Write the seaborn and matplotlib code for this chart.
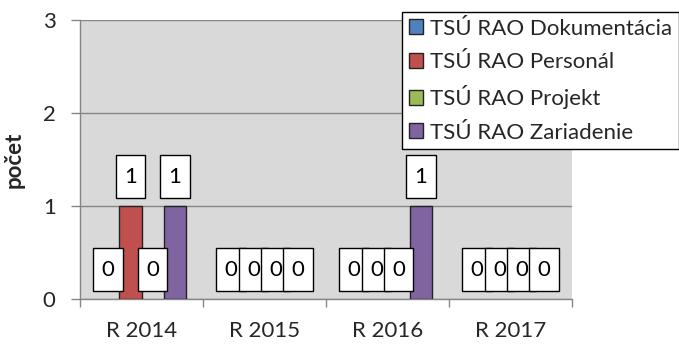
import matplotlib
matplotlib.use("Agg")
import matplotlib.pyplot as plt
from matplotlib.patches import Patch
from matplotlib.path import Path
import seaborn as sns
import pandas as pd

years = ["R 2014", "R 2015", "R 2016", "R 2017"]
series_names = ["TSÚ RAO Dokumentácia", "TSÚ RAO Personál", "TSÚ RAO Projekt", "TSÚ RAO Zariadenie"]
dokumentacia = [0, 0, 0, 0]
personal = [1, 0, 0, 0]
projekt = [0, 0, 0, 0]
zariadenie = [1, 0, 1, 0]
colors = ["#4F81BD", "#C0504D", "#9BBB59", "#8064A2"]
y_ticks = [0, 1, 2, 3]


class LabelBox:
    """Rectangular box with separate horizontal and vertical padding."""

    def __init__(self, padx=0.4, pady=0.55):
        self.padx = padx
        self.pady = pady

    def __call__(self, x0, y0, width, height, mutation_size):
        px = self.padx * mutation_size
        py = self.pady * mutation_size
        x0, y0 = x0 - px, y0 - py
        x1, y1 = x0 + width + 2 * px, y0 + height + 2 * py
        return Path._create_closed([(x0, y0), (x1, y0), (x1, y1), (x0, y1)])


rows = []
for name, vals in zip(series_names, [dokumentacia, personal, projekt, zariadenie]):
    for yr, v in zip(years, vals):
        rows.append({"rok": yr, "séria": name, "počet": v})
df = pd.DataFrame(rows)

sns.set_theme(style="white")
plt.rcParams["font.family"] = ["Lato", "DejaVu Sans"]

fig = plt.figure(figsize=(6.79, 3.45), dpi=100)
ax = fig.add_axes([80 / 679, 1 - 299 / 345, (572 - 80) / 679, (299 - 20) / 345])
ax.set_facecolor("#D9D9D9")

sns.barplot(data=df, x="rok", y="počet", hue="séria", order=years,
            hue_order=series_names, palette=colors, width=0.72, gap=0,
            edgecolor="#222222", linewidth=1.0, saturation=1, ax=ax, zorder=3)
ax.get_legend().remove()

for cont in ax.containers:
    for bar in cont:
        if bar.get_height() == 0:
            bar.set_linewidth(0)
    ax.bar_label(cont, padding=14, fontsize=16, color="black", zorder=5,
                 bbox=dict(boxstyle=LabelBox(0.38, 0.5), fc="white", ec="black", lw=1.0))

ax.set_ylim(0, 3)
ax.set_yticks(y_ticks)
ax.set_xlim(-0.5, 3.5)
ax.yaxis.grid(True, color="#868686", linewidth=1.0, zorder=0)
ax.set_axisbelow(True)

for side in ["top", "right"]:
    ax.spines[side].set_visible(False)
for side in ["left", "bottom"]:
    ax.spines[side].set_color("#868686")
    ax.spines[side].set_linewidth(1.0)

ax.tick_params(axis="y", which="major", length=6.5, width=1.0, color="#868686",
               labelsize=16, pad=11, direction="out", left=True)
ax.set_xticks(range(len(years)))
ax.set_xticklabels(years)
ax.set_xticks([-0.5, 0.5, 1.5, 2.5, 3.5], minor=True)
ax.tick_params(axis="x", which="major", length=0, labelsize=16, pad=16)
ax.tick_params(axis="x", which="minor", length=6, width=1.0, color="#868686",
               direction="out", bottom=True)
ax.set_xlabel("")
ax.set_ylabel("počet", fontsize=16, fontweight="bold", labelpad=13)

handles = [Patch(facecolor=c, edgecolor="#222222", linewidth=1.0) for c in colors]
leg = fig.legend(handles, series_names, loc="upper left",
                 bbox_to_anchor=(402 / 679, 1 - 12 / 345), fontsize=16,
                 frameon=True, fancybox=False, framealpha=1, edgecolor="black",
                 handlelength=0.65, handleheight=0.65, handletextpad=0.3,
                 labelspacing=0.6, borderpad=0.3, borderaxespad=0)
leg.get_frame().set_linewidth(1.0)

fig.savefig("out.png", dpi=100)
